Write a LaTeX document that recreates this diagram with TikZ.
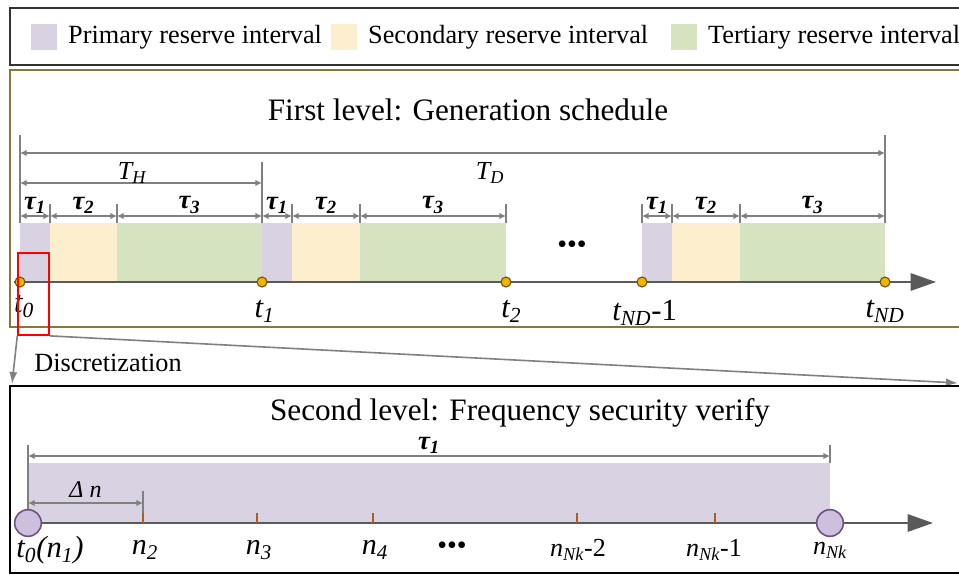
\documentclass[tikz,border=0pt]{standalone}
\usepackage{fontspec}
\setmainfont{Liberation Serif}
\usetikzlibrary{arrows.meta,positioning,calc}

\definecolor{primc}{RGB}{217,210,227}
\definecolor{secc}{RGB}{253,238,206}
\definecolor{terc}{RGB}{214,227,192}
\definecolor{dimgray}{RGB}{128,128,128}
\definecolor{axisgray}{RGB}{90,90,90}
\definecolor{olivebox}{RGB}{140,118,60}
\definecolor{dotfill}{RGB}{240,180,0}
\definecolor{dotline}{RGB}{110,80,10}
\definecolor{circfill}{RGB}{205,192,222}
\definecolor{circline}{RGB}{110,80,130}
\definecolor{tickc}{RGB}{180,90,30}

\newcommand{\tauk}[1]{{\bfseries\itshape τ\textsubscript{#1}}}

\begin{document}
\begin{tikzpicture}[x=0.75pt, y=-0.75pt, >=Latex]
  \tikzstyle{swatch}=[minimum width=19.5pt, minimum height=20pt, inner sep=0pt]
  \tikzstyle{lgtext}=[font=\fontsize{19.7}{21}\selectfont, inner sep=0pt]
  \tikzstyle{dim}=[dimgray, line width=1.4pt, {Latex[length=5pt,width=5pt]}-{Latex[length=5pt,width=5pt]}]
  \tikzstyle{guide}=[dimgray, line width=1.4pt]
  \tikzstyle{timeaxis}=[axisgray, line width=1.5pt, -{Triangle[length=19pt,width=13pt]}]
  \tikzstyle{dot}=[circle, fill=dotfill, draw=dotline, line width=0.8pt, minimum size=7.5pt, inner sep=0pt]
  \tikzstyle{bigdot}=[circle, fill=circfill, draw=circline, line width=1.2pt, minimum size=20pt, inner sep=0pt]
  \tikzstyle{tlabel}=[text=black, font=\fontsize{23}{24}\selectfont\itshape]
  \tikzstyle{nlabel}=[text=black, font=\fontsize{22.5}{24}\selectfont\itshape]
  \tikzstyle{taulabel}=[text=black, font=\fontsize{20}{22}\selectfont, above=-2pt]
  \tikzstyle{title}=[font=\fontsize{23.4}{25}\selectfont]
  \tikzstyle{dots}=[font=\fontsize{21}{22}\selectfont]

  \useasboundingbox (0,0) rectangle (959,574);

  % legend
  \draw[line width=1.1pt, black!80] (10,8) rectangle (990,65);
  \node[swatch, fill=primc] (sw1) at (44,37) {};
  \node[lgtext, right=8pt of sw1] (lg1) {Primary reserve interval};
  \node[swatch, fill=secc] (sw2) at (344,37) {};
  \node[lgtext, right=8pt of sw2] (lg2) {Secondary reserve interval};
  \node[swatch, fill=terc] (sw3) at (684,37) {};
  \node[lgtext, right=8pt of sw3] (lg3) {Tertiary reserve interval};

  % first level
  \draw[olivebox, line width=1.5pt] (10,70) rectangle (990,327);
  \node[title] (lvlone) at (468,110) {First level: Generation schedule};

  \foreach \a/\b/\c in {20/50/primc, 50/117/secc, 117/262/terc,
                        262/292/primc, 292/360/secc, 360/506/terc,
                        642/672/primc, 672/740/secc, 740/885/terc}
    \fill[\c] (\a,223) rectangle (\b,282);

  \draw[guide] (20,135) -- (20,223);
  \draw[guide] (262,162) -- (262,223);
  \draw[guide] (885,135) -- (885,223);
  \foreach \x in {50,117,292,360,506,642,672,740}
    \draw[guide] (\x,204) -- (\x,223);

  \draw[dim] (20,153) -- (885,153);
  \node[tlabel, font=\fontsize{19.5}{20}\selectfont\itshape] at (490,173) {T\textsubscript{D}};
  \draw[dim] (20,183) -- (262,183);
  \node[tlabel, font=\fontsize{19.5}{20}\selectfont\itshape] at (132,173) {T\textsubscript{H}};

  \foreach \a/\b/\k in {20/50/1, 50/117/2, 117/262/3,
                        262/292/1, 292/360/2, 360/506/3,
                        642/672/1, 672/740/2, 740/885/3}
    \draw[dim] (\a,216) -- node[taulabel] {\tauk{\k}} (\b,216);

  \coordinate (axoneend) at (936,282);
  \draw[timeaxis] (14,282) -- (axoneend);

  \node[dot] (t0) at (20,282) {};
  \node[dot] (t1) at (262,282) {};
  \node[dot] (t2) at (506,282) {};
  \node[dot] (tnd1) at (642,282) {};
  \node[dot] (tnd) at (885,282) {};

  \node[tlabel, below=2pt of t0, xshift=3pt] {t\textsubscript{0}};
  \node[tlabel, below=6pt of t1, xshift=2pt] {t\textsubscript{1}};
  \node[tlabel, below=6pt of t2, xshift=4pt] {t\textsubscript{2}};
  \node[tlabel, below=6pt of tnd1, xshift=2pt] {t\textsubscript{ND}\upshape -1};
  \node[tlabel, below=6pt of tnd] {t\textsubscript{ND}};
  \node[dots] at (572,247) {•••};

  % zoom window
  \node[draw=red, line width=1.3pt, minimum width=23pt, minimum height=61.5pt, inner sep=0pt] (zoom) at (33.5,294) {};
  \coordinate (zl) at (12,384);
  \coordinate (zr) at (958,383);
  \draw[dimgray, line width=1.2pt, -{Latex[length=9pt,width=6pt]}] (zoom.south west) -- (zl);
  \draw[dimgray, line width=1.2pt, -{Latex[length=9pt,width=6pt]}] (zoom.south east) -- (zr);
  \node[lgtext] (disc) at (108,363) {Discretization};

  % second level
  \draw[black, line width=1.4pt] (10,386) rectangle (990,573);
  \node[title] (lvltwo) at (520,413) {Second level: Frequency security verify};

  \fill[primc] (28,463) rectangle (830,523);
  \draw[guide] (28,445) -- (28,523);
  \draw[guide] (830,445) -- (830,463);
  \draw[dim] (28,456) -- node[taulabel] {\tauk{1}} (830,456);
  \draw[guide] (143,491) -- (143,513);
  \draw[dim] (28,503) -- node[above, nlabel, font=\fontsize{18}{20}\selectfont\itshape] {Δ n} (143,503);

  \draw[timeaxis] (14,523) -- (933,523);
  \foreach \x in {143,257,373,577,715}
    \draw[tickc, line width=1.2pt] (\x,513) -- (\x,523);

  \node[bigdot] (n1) at (28,523) {};
  \node[bigdot] (nk) at (830,523) {};

  \node[nlabel, font=\fontsize{23}{24}\selectfont\itshape] at (50,550) {t\textsubscript{0}(n\textsubscript{1})};
  \node[nlabel] at (145,550) {n\textsubscript{2}};
  \node[nlabel] at (259,550) {n\textsubscript{3}};
  \node[nlabel] at (375,550) {n\textsubscript{4}};
  \node[dots] at (452,548) {•••};
  \node[nlabel, font=\fontsize{19.5}{20}\selectfont\itshape] at (578,550) {n\textsubscript{Nk}\upshape -2};
  \node[nlabel, font=\fontsize{19.5}{20}\selectfont\itshape] at (714,550) {n\textsubscript{Nk}\upshape -1};
  \node[nlabel, font=\fontsize{19.5}{20}\selectfont\itshape] at (830,550) {n\textsubscript{Nk}};
\end{tikzpicture}
\end{document}
